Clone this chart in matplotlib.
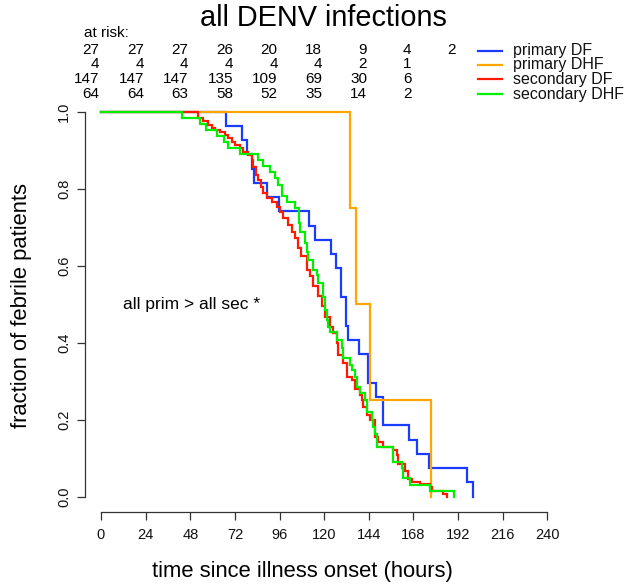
import matplotlib
matplotlib.use("Agg")
import matplotlib.pyplot as plt
import matplotlib.transforms as mtransforms
from matplotlib.lines import Line2D

plt.rcParams['font.family'] = ['Liberation Sans', 'DejaVu Sans']

# Kaplan-Meier style step curves (hours, fraction still febrile)
blue_t = [0, 67.2, 75.6, 78.3, 81, 82.3, 89.1, 95.9, 112, 115, 123.4, 126.3, 129, 131.7,
          133, 138.7, 143.5, 147.8, 151.4, 165.8, 170, 176.3, 196.6, 200]
blue_s = [1, 0.963, 0.926, 0.889, 0.852, 0.815, 0.778, 0.741, 0.704, 0.667, 0.630, 0.593,
          0.519, 0.444, 0.407, 0.370, 0.296, 0.259, 0.185, 0.148, 0.111, 0.074, 0.037, 0.0]

orange_t = [0, 133.9, 137, 144.5, 177.2]
orange_s = [1, 0.75, 0.5, 0.25, 0.0]

red_t = [0, 52.3, 55, 57.7, 59.5, 61.3, 64, 66.7, 68.5, 70.3, 72, 74.7, 76.5, 79.2, 81,
         81.9, 83.3, 84.6, 85.8, 87.3, 89.1, 91.8, 94.5, 96.2, 98, 100.7, 102.5, 104.3,
         106.1, 107.8, 110.5, 112.3, 114.1, 116.8, 118.7, 120.4, 123.1, 124.9, 126.7,
         127.6, 130.3, 132.1, 134.7, 136.6, 139.2, 140.1, 141, 142.8, 144.6, 147.3, 149.1,
         151.8, 157.2, 159, 159.8, 163.4, 165.2, 167, 171.5, 176.9, 177.8, 184, 185.8]
red_s = [1.0, 0.984, 0.976, 0.965, 0.958, 0.952, 0.946, 0.939, 0.931, 0.922, 0.913, 0.906,
         0.896, 0.887, 0.875, 0.857, 0.836, 0.823, 0.805, 0.788, 0.775, 0.766, 0.753, 0.740,
         0.723, 0.706, 0.688, 0.671, 0.647, 0.625, 0.59, 0.573, 0.546, 0.52, 0.494, 0.468,
         0.442, 0.425, 0.399, 0.368, 0.346, 0.311, 0.303, 0.281, 0.264, 0.25, 0.233, 0.211,
         0.198, 0.155, 0.142, 0.129, 0.12, 0.107, 0.085, 0.068, 0.046, 0.037, 0.033, 0.024,
         0.016, 0.007, 0.0]

green_t = [0, 43.4, 53, 56.5, 62.5, 66, 68.5, 74.7, 84.6, 87.3, 90.9, 93.5, 95.3, 97.1,
           99.8, 104.3, 106.6, 107.2, 109.7, 110.5, 111.4, 114.1, 116.0, 116.8, 119.5,
           120.4, 121.3, 122.2, 123.1, 126.7, 129.4, 130.3, 133.9, 134.8, 136.6, 137.5,
           139.2, 141.9, 142.8, 145.5, 146.0, 147.3, 148.2, 156.8, 157.2, 161.7, 162.3,
           166.1, 176.9, 189.8]
green_s = [1.0, 0.984, 0.969, 0.953, 0.938, 0.922, 0.906, 0.891, 0.875, 0.859, 0.844,
           0.828, 0.81, 0.78, 0.766, 0.749, 0.71, 0.688, 0.658, 0.636, 0.615, 0.589, 0.576,
           0.554, 0.519, 0.485, 0.459, 0.442, 0.429, 0.407, 0.385, 0.36, 0.342, 0.329,
           0.312, 0.286, 0.269, 0.251, 0.221, 0.199, 0.182, 0.164, 0.13, 0.108, 0.091,
           0.074, 0.048, 0.03, 0.016, 0.0]

labels = ['primary DF', 'primary DHF', 'secondary DF', 'secondary DHF']
colors = ['#1a3cff', '#ffa500', '#ff1a00', '#00ee00']

# numbers at risk
risk_times = [0, 24, 48, 72, 96, 120, 144, 168, 192]
risk_prim_df = [27, 27, 27, 26, 20, 18, 9, 4, 2]
risk_prim_dhf = [4, 4, 4, 4, 4, 4, 2, 1]
risk_sec_df = [147, 147, 147, 135, 109, 69, 30, 6]
risk_sec_dhf = [64, 64, 63, 58, 52, 35, 14, 2]

x_ticks = list(range(0, 241, 24))
y_ticks = [0.0, 0.2, 0.4, 0.6, 0.8, 1.0]

fig = plt.figure(figsize=(6.24, 5.87), dpi=100)
ax = fig.add_axes([0.1361, 0.1276, 0.7441, 0.7084])

curves = [(blue_t, blue_s), (orange_t, orange_s), (red_t, red_s), (green_t, green_s)]
for (t, s), c in zip(curves, colors):
    ax.step(t, s, where='post', color=c, lw=1.6, solid_joinstyle='miter')

ax.set_xlim(-8.64, 241)
ax.set_ylim(-0.04, 1.04)
ax.spines['top'].set_visible(False)
ax.spines['right'].set_visible(False)
ax.spines['bottom'].set_bounds(0, 240)
ax.spines['left'].set_bounds(0, 1)
for sp in ['bottom', 'left']:
    ax.spines[sp].set_color('#333333')
    ax.spines[sp].set_linewidth(0.9)

ax.set_xticks(x_ticks)
ax.set_yticks(y_ticks)
ax.set_yticklabels(['%.1f' % v for v in y_ticks])
ax.tick_params(axis='both', direction='out', length=5.5, width=0.9, color='#333333',
               labelsize=10.5, labelcolor='#111111')
ax.tick_params(axis='x', pad=6)
ax.tick_params(axis='y', pad=9.5)
plt.setp(ax.get_yticklabels(), rotation=90, ha='center', va='center')

ax.set_xlabel('time since illness onset (hours)', fontsize=15.8, va='center')
ax.xaxis.set_label_coords(0.4676, -0.1433)
ax.set_ylabel('fraction of febrile patients', fontsize=15.8, va='center', ha='center')
ax.yaxis.set_label_coords(-0.1360, 0.497)

ax.text(11.8, 0.50, 'all prim > all sec *', fontsize=12.5, va='center', ha='left')

fig.text(0.5186, 1 - 18 / 587, 'all DENV infections', fontsize=20.8, ha='center', va='center')

# at-risk table above the plot
trans = mtransforms.blended_transform_factory(ax.transData, fig.transFigure)
fig.text(84 / 624, 1 - 33 / 587, 'at risk:', fontsize=11, ha='left', va='center')
rows = [risk_prim_df, risk_prim_dhf, risk_sec_df, risk_sec_dhf]
row_y = [50, 64.5, 79.5, 94]
for row, ry in zip(rows, row_y):
    for t, n in zip(risk_times, row):
        ax.text(t - 1, 1 - ry / 587, str(n), transform=trans, fontsize=11,
                ha='right', va='center')

# legend
leg_y = [50.7, 65, 79.3, 94.3]
for lab, c, ly in zip(labels, colors, leg_y):
    yy = 1 - ly / 587
    fig.add_artist(Line2D([478 / 624, 502 / 624], [yy, yy], color=c, lw=1.6,
                          transform=fig.transFigure))
    fig.text(513 / 624, yy, lab, fontsize=11.5, ha='left', va='center', color='#111111')

fig.savefig('out.png', dpi=100)
